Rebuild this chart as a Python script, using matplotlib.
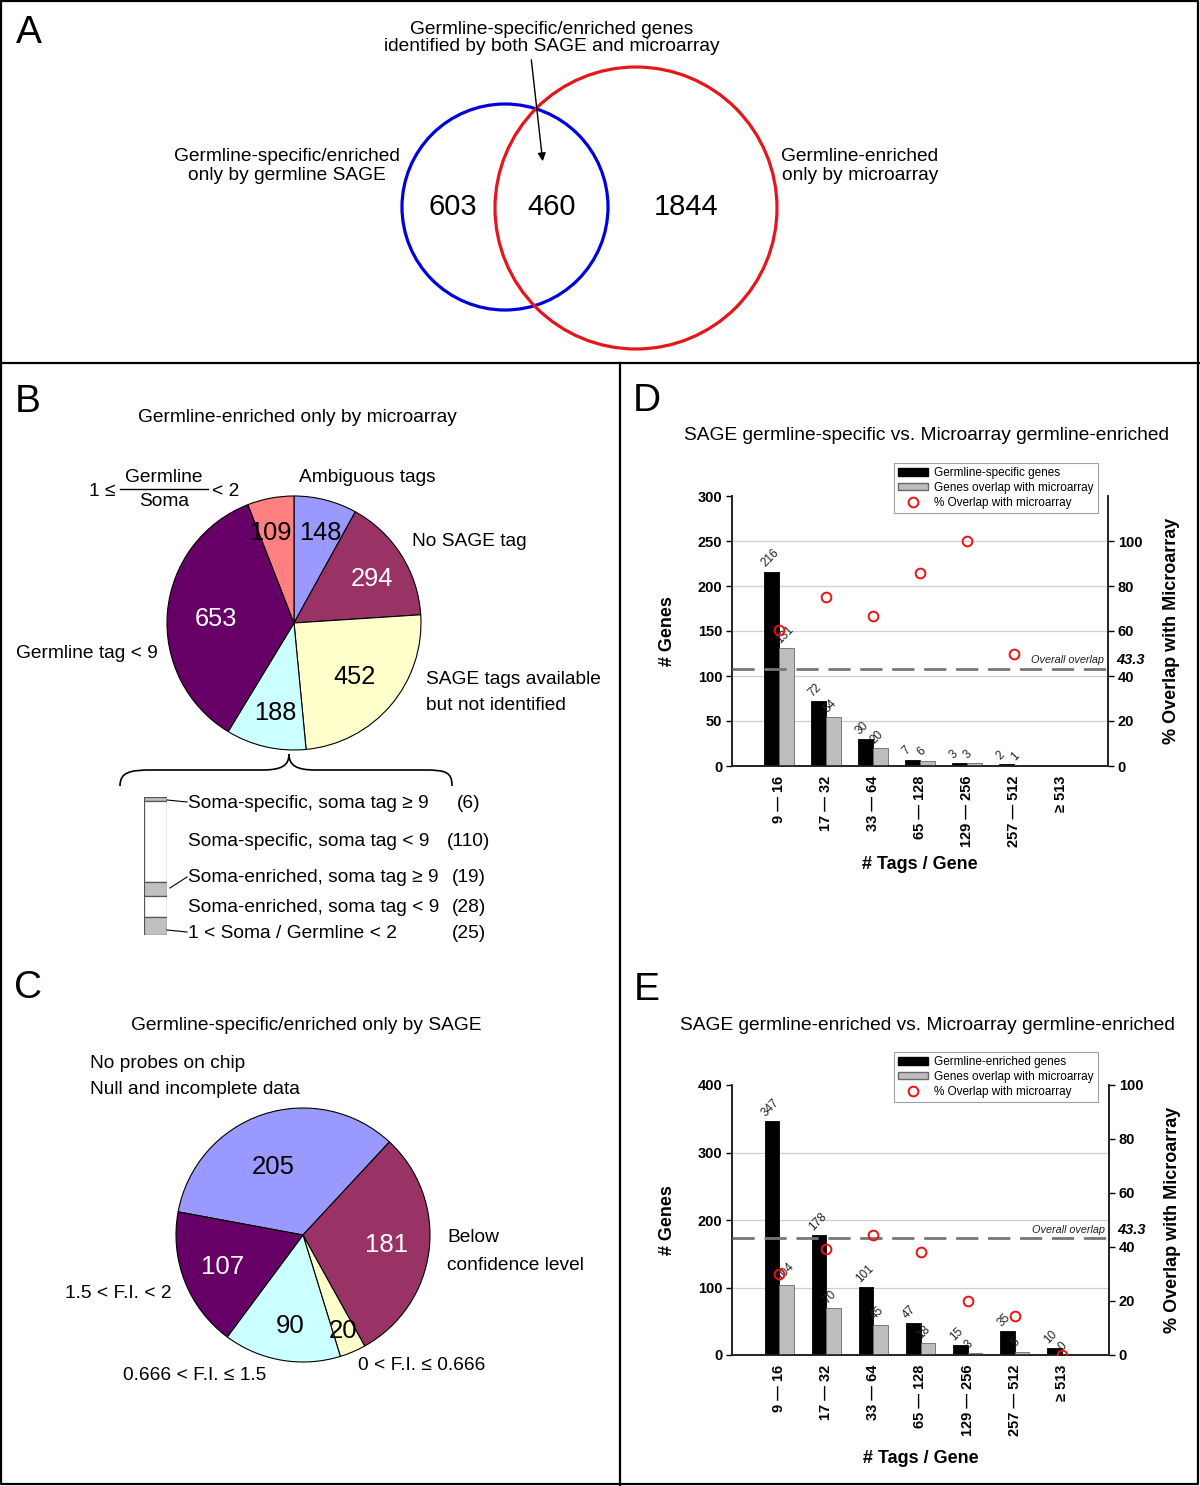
import numpy as np
import matplotlib
matplotlib.use('Agg')
import matplotlib.pyplot as plt
from matplotlib.patches import Circle, PathPatch, Patch
from matplotlib.path import Path
from matplotlib.lines import Line2D
from matplotlib.transforms import blended_transform_factory

plt.rcParams['font.family'] = ['Liberation Sans', 'DejaVu Sans']

# ---------------- data ----------------
venn_counts = [603, 460, 1844]          # SAGE only, both, microarray only

b_values = [148, 294, 452, 188, 653, 109]
b_colors = ['#9999ff', '#993366', '#ffffcc', '#ccffff', '#660066', '#ff8080']
b_text_colors = ['black', 'white', 'black', 'black', 'white', 'black']

b_sub_labels = ['Soma-specific, soma tag \u2265 9', 'Soma-specific, soma tag < 9',
                'Soma-enriched, soma tag \u2265 9', 'Soma-enriched, soma tag < 9',
                '1 < Soma / Germline < 2']
b_sub_values = [6, 110, 19, 28, 25]
b_sub_colors = ['#c0c0c0', 'white', '#c0c0c0', 'white', '#c0c0c0']

c_values = [205, 181, 20, 90, 107]
c_colors = ['#9999ff', '#993366', '#ffffcc', '#ccffff', '#660066']
c_text_colors = ['black', 'white', 'black', 'black', 'white']

tag_bins = ['9 \u2014 16', '17 \u2014 32', '33 \u2014 64', '65 \u2014 128',
            '129 \u2014 256', '257 \u2014 512', '\u2265 513']
d_genes = [216, 72, 30, 7, 3, 2, 0]
d_overlap = [131, 54, 20, 6, 3, 1, 0]
d_pct = [60.6, 75.0, 66.7, 85.7, 100.0, 50.0, np.nan]
e_genes = [347, 178, 101, 47, 15, 35, 10]
e_overlap = [104, 70, 45, 18, 3, 5, 0]
e_pct = [30.0, 39.3, 44.6, 38.3, 20.0, 14.3, 0.0]
overall_overlap = 43.3

FS = 13.8  # body text size

# ---------------- figure ----------------
W, H = 1200, 1486
fig = plt.figure(figsize=(W / 100, H / 100), dpi=100)


def px_axes(x0, y0, x1, y1):
    """axes from pixel box (origin top-left)"""
    return fig.add_axes([x0 / W, 1 - y1 / H, (x1 - x0) / W, (y1 - y0) / H])


# transparent overlay in pixel coordinates, drawn above everything
bg = fig.add_axes([0, 0, 1, 1])
bg.set_xlim(0, W)
bg.set_ylim(H, 0)
bg.axis('off')
bg.set_zorder(10)

# frame lines
bg.plot([1, 1198, 1198, 1, 1], [1, 1, 1484, 1484, 1], color='black', lw=1.6)
bg.plot([0, W], [363, 363], color='black', lw=1.6)
bg.plot([620, 620], [363, H], color='black', lw=1.6)

for letter, (lx, ly) in zip('ABCDE', [(29, 33), (28, 402), (28, 988), (647, 401), (647, 990)]):
    bg.text(lx, ly, letter, fontsize=28, ha='center', va='center')

# ---------------- A: venn ----------------
bg.add_patch(Circle((505, 207), 103, fill=False, ec='#0000dd', lw=2.3))
bg.add_patch(Circle((636, 208), 141, fill=False, ec='#e8141b', lw=2.3))
for val, tx in zip(venn_counts, [453, 552, 686]):
    bg.text(tx, 207, str(val), fontsize=21, ha='center', va='center')
bg.text(552, 38, 'Germline-specific/enriched genes\nidentified by both SAGE and microarray',
        fontsize=FS, ha='center', va='center', linespacing=1.0)
bg.text(287, 166, 'Germline-specific/enriched\nonly by germline SAGE',
        fontsize=FS, ha='center', va='center', linespacing=1.2)
bg.text(860, 166, 'Germline-enriched\nonly by microarray',
        fontsize=FS, ha='center', va='center', linespacing=1.2)
bg.annotate('', xy=(543, 164), xytext=(531, 57),
            arrowprops=dict(arrowstyle='-|>', lw=1, color='black', mutation_scale=12))


# ---------------- B: pie ----------------
def pie_axes(cx, cy, r, pad=1.04):
    return px_axes(cx - r * pad, cy - r * pad, cx + r * pad, cy + r * pad)


axb = pie_axes(294, 623, 127)
axb.pie(b_values, colors=b_colors, startangle=90, counterclock=False,
        wedgeprops=dict(edgecolor='black', linewidth=0.8))
axb.set_xlim(-1.04, 1.04)
axb.set_ylim(-1.04, 1.04)

b_num_pos = [(320, 533), (372, 579), (354, 677), (275, 713), (216, 619), (270, 533)]
for val, (tx, ty), col in zip(b_values, b_num_pos, b_text_colors):
    bg.text(tx, ty, str(val), fontsize=18.3, ha='center', va='center', color=col)

bg.text(297, 418, 'Germline-enriched only by microarray', fontsize=FS, ha='center', va='center')
bg.text(367, 477, 'Ambiguous tags', fontsize=FS, ha='center', va='center')
bg.text(412, 541, 'No SAGE tag', fontsize=FS, ha='left', va='center')
bg.text(426, 679, 'SAGE tags available', fontsize=FS, ha='left', va='center')
bg.text(426, 705, 'but not identified', fontsize=FS, ha='left', va='center')
bg.text(87, 653, 'Germline tag < 9', fontsize=FS, ha='center', va='center')
# fraction label
bg.text(102, 492, '1 \u2264', fontsize=FS, ha='center', va='center')
bg.text(164, 477, 'Germline', fontsize=FS, ha='center', va='center')
bg.plot([120, 208], [489, 489], color='black', lw=1)
bg.text(164, 502, 'Soma', fontsize=FS, ha='center', va='center')
bg.text(226, 492, '< 2', fontsize=FS, ha='center', va='center')

# brace
brace = Path([(120, 786), (120, 772), (130, 770), (152, 770), (262, 770),
              (281, 770), (289, 766), (289, 754), (289, 766), (297, 770), (316, 770),
              (424, 770), (446, 770), (452, 772), (452, 786)],
             [Path.MOVETO, Path.CURVE4, Path.CURVE4, Path.CURVE4, Path.LINETO,
              Path.CURVE4, Path.CURVE4, Path.CURVE4, Path.CURVE4, Path.CURVE4, Path.CURVE4,
              Path.LINETO, Path.CURVE4, Path.CURVE4, Path.CURVE4])
bg.add_patch(PathPatch(brace, fill=False, lw=1.2, ec='black'))

# stacked bar of the 188 slice
axs = px_axes(144, 797, 167, 935)
bottoms = np.concatenate([[0], np.cumsum(b_sub_values)[:-1]])
axs.bar(0, b_sub_values, bottom=bottoms, width=1, color=b_sub_colors, edgecolor='#555555', linewidth=0.9)
axs.set_xlim(-0.5, 0.5)
axs.set_ylim(sum(b_sub_values), 0)
axs.axis('off')

sub_y = [803, 842, 877, 907, 933]
for lab, val, ty in zip(b_sub_labels, b_sub_values, sub_y):
    bg.text(188, ty, lab, fontsize=FS, ha='left', va='center')
    bg.text(469, ty, '(%d)' % val, fontsize=FS, ha='center', va='center')
bg.plot([167, 187], [800, 802], color='black', lw=0.8)
bg.plot([170, 187], [888, 877], color='black', lw=0.8)
bg.plot([167, 187], [930, 932], color='black', lw=0.8)

# ---------------- C: pie ----------------
axc = pie_axes(303, 1235, 127)
axc.pie(c_values, colors=c_colors, startangle=169.5, counterclock=False,
        wedgeprops=dict(edgecolor='black', linewidth=0.8))
axc.set_xlim(-1.04, 1.04)
axc.set_ylim(-1.04, 1.04)

c_num_pos = [(273, 1167), (387, 1245), (343, 1331), (290, 1326), (223, 1267)]
for val, (tx, ty), col in zip(c_values, c_num_pos, c_text_colors):
    bg.text(tx, ty, str(val), fontsize=18.5, ha='center', va='center', color=col)

bg.text(306, 1025, 'Germline-specific/enriched only by SAGE', fontsize=FS, ha='center', va='center')
bg.text(90, 1063, 'No probes on chip', fontsize=FS, ha='left', va='center')
bg.text(90, 1089, 'Null and incomplete data', fontsize=FS, ha='left', va='center')
bg.text(447, 1238, 'Below', fontsize=FS, ha='left', va='center')
bg.text(447, 1265, 'confidence level', fontsize=FS, ha='left', va='center')
bg.text(118, 1294, '1.5 < F.I. < 2', fontsize=FS, ha='center', va='center')
bg.text(195, 1375, '0.666 < F.I. \u2264 1.5', fontsize=FS, ha='center', va='center')
bg.text(422, 1366, '0 < F.I. \u2264 0.666', fontsize=FS, ha='center', va='center')


# ---------------- D / E: bar charts ----------------
def bar_panel(box, genes, overlap, pct, ymax, ystep, rmax, first_label, title, title_y, xpad):
    ax = px_axes(*box)
    x = np.arange(len(tag_bins))
    w = 0.31
    ax.bar(x - w / 2, genes, w, color='black', edgecolor='black', linewidth=0.6, zorder=3)
    ax.bar(x + w / 2, overlap, w, color='#bdbdbd', edgecolor='#6a6a6a', linewidth=0.6, zorder=3)
    for i in range(len(x)):
        if genes[i] == 0:
            continue
        ax.annotate(str(genes[i]), (x[i] - w / 2, genes[i]), xytext=(-3, 1.5),
                    textcoords='offset points', rotation=45, rotation_mode='anchor',
                    ha='left', va='bottom', fontsize=8.5, color='#222222')
        ax.annotate(str(overlap[i]), (x[i] + w / 2, overlap[i]), xytext=(-3, 1.5),
                    textcoords='offset points', rotation=45, rotation_mode='anchor',
                    ha='left', va='bottom', fontsize=8.5, color='#222222')
    yt = np.arange(0, ymax + 1, ystep)
    for yy in yt[1:-1]:
        ax.axhline(yy, color='#cfcfcf', lw=0.9, zorder=1)
    ax.set_xlim(-1, len(x))
    ax.set_ylim(0, ymax)
    ax.set_yticks(yt)
    ax.set_xticks(x)
    ax.set_xticklabels(tag_bins, rotation=90, fontweight='bold', fontsize=10.5)
    ax.tick_params(axis='x', length=0, pad=7)
    ax.tick_params(axis='y', length=4, width=1, labelsize=10.5, pad=3)
    for lbl in ax.get_yticklabels():
        lbl.set_fontweight('bold')
    ax.spines['top'].set_visible(False)
    for s in ['left', 'right', 'bottom']:
        ax.spines[s].set_linewidth(1.2)
        ax.spines[s].set_color('#222222')
    ax.set_xlabel('# Tags / Gene', fontsize=13, fontweight='bold', labelpad=xpad)
    ax.set_ylabel('# Genes', fontsize=13, fontweight='bold')
    ax.yaxis.set_label_coords(-0.149, 0.5)

    axr = ax.twinx()
    axr.set_ylim(0, rmax)
    axr.set_yticks(np.arange(0, 101, 20))
    axr.tick_params(axis='y', length=4, width=1, labelsize=10.5, pad=3)
    for lbl in axr.get_yticklabels():
        lbl.set_fontweight('bold')
    axr.spines['top'].set_visible(False)
    for s in ['left', 'right', 'bottom']:
        axr.spines[s].set_linewidth(1.2)
        axr.spines[s].set_color('#222222')
    axr.axhline(overall_overlap, color='#777777', lw=2, dashes=(8, 3.5), zorder=4)
    axr.plot(x, pct, 'o', mfc='none', mec='#ee1111', ms=7, mew=1.4, zorder=5)
    tr = blended_transform_factory(axr.transAxes, axr.transData)
    axr.text(0.99, overall_overlap + rmax * 0.012, 'Overall overlap', transform=tr,
             ha='right', va='bottom', fontsize=7.8, style='italic', color='#222222')
    axr.text(1.022, overall_overlap + rmax * 0.004, '%.1f' % overall_overlap, transform=tr,
             ha='left', va='bottom', fontsize=10.5, style='italic', fontweight='bold')
    axr.set_ylabel('% Overlap with Microarray', fontsize=13, fontweight='bold')
    axr.yaxis.set_label_coords(1.146, 0.5)

    handles = [Patch(facecolor='black', edgecolor='black'),
               Patch(facecolor='#bdbdbd', edgecolor='#6a6a6a'),
               Line2D([], [], ls='none', marker='o', mfc='none', mec='#ee1111', ms=7, mew=1.4)]
    labels = [first_label, 'Genes overlap with microarray', '% Overlap with microarray']
    box_h = box[3] - box[1]
    box_w = box[2] - box[0]
    leg = axr.legend(handles, labels, loc='upper right',
                     bbox_to_anchor=((1098 - box[0]) / box_w, 1 + 33 / box_h),
                     fontsize=8.5, frameon=True, fancybox=False, edgecolor='#888888',
                     handlelength=2.6, handleheight=0.55, handletextpad=0.5,
                     labelspacing=0.25, borderpad=0.35, borderaxespad=0)
    leg.get_frame().set_linewidth(0.8)
    bg.text((box[0] + box[2]) / 2 + 7, title_y, title, fontsize=FS, ha='center', va='center')
    return ax


bar_panel((732, 496, 1108, 766), d_genes, d_overlap, d_pct, 300, 50, 120,
          'Germline-specific genes',
          'SAGE germline-specific vs. Microarray germline-enriched', 436, 6)
bar_panel((732, 1085, 1109, 1355), e_genes, e_overlap, e_pct, 400, 100, 100,
          'Germline-enriched genes',
          'SAGE germline-enriched vs. Microarray germline-enriched', 1025, 10)

fig.savefig('out.png', dpi=100)
